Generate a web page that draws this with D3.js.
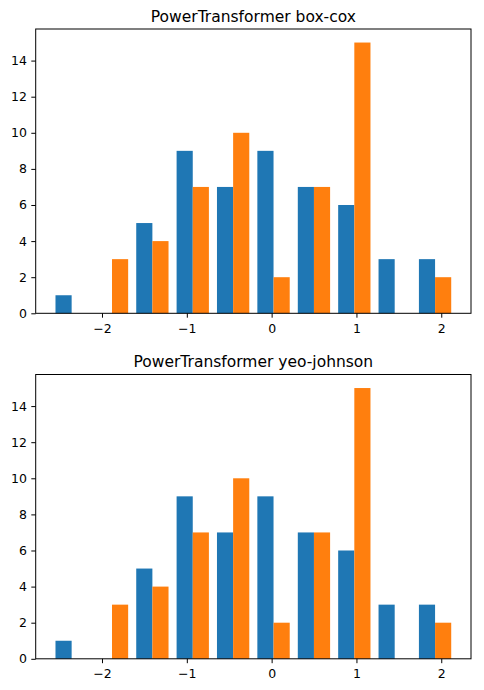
<!DOCTYPE html>
<html>
<head>
<meta charset="utf-8">
<script src="https://cdn.jsdelivr.net/npm/d3@7"></script>
<style>
	body { margin: 0; background: #fff; }
	text { font-family: "DejaVu Sans", sans-serif; fill: #000; }
</style>
</head>
<body>
<div id="graph"></div>
<script>
// histogram bins (10 bins, two data sets)
var binEdges = [-2.596, -2.120, -1.644, -1.168, -0.692, -0.216, 0.261, 0.737, 1.213, 1.689, 2.165];
var blueCounts = [1, 0, 5, 9, 7, 9, 7, 6, 3, 3];
var orangeCounts = [0, 3, 4, 7, 10, 2, 7, 15, 0, 2];
var titles = ["PowerTransformer box-cox", "PowerTransformer yeo-johnson"];
var xTicks = [-2, -1, 0, 1, 2];
var yTicks = [0, 2, 4, 6, 8, 10, 12, 14];
var colors = ["#1f77b4", "#ff7f0e"];

var width = 484;
var height = 690;
var plotLeft = 35.7, plotRight = 471;
var panelTops = [29, 374.5];
var panelHeight = 284.3;

var svg = d3.select("#graph")
				.append("svg")
					.attr("width", width)
					.attr("height", height)

// bars like matplotlib: 80% of each bin, split between the two sets
var bars = [];
[blueCounts, orangeCounts].forEach(function (counts, s) {
	counts.forEach(function (c, i) {
		var w = binEdges[i + 1] - binEdges[i];
		bars.push({ x0: binEdges[i] + w * (0.1 + 0.4 * s), x1: binEdges[i] + w * (0.5 + 0.4 * s), count: c, set: s });
	});
});

var lo = d3.min(bars, function (d) { return d.x0; });
var hi = d3.max(bars, function (d) { return d.x1; });
var pad = (hi - lo) * 0.05;
var x = d3.scaleLinear().domain([lo - pad, hi + pad]).range([plotLeft, plotRight]);
var yMax = d3.max(bars, function (d) { return d.count; }) * 1.05;

titles.forEach(function (title, p) {
	var top = panelTops[p];
	var y = d3.scaleLinear().domain([0, yMax]).range([top + panelHeight, top]);
	var g = svg.append("g");

	g.selectAll("rect.bar")
		.data(bars)
		.enter()
			.append("rect")
				.attr("class", "bar")
				.attr("x", function (d) { return x(d.x0); })
				.attr("width", function (d) { return x(d.x1) - x(d.x0); })
				.attr("y", function (d) { return y(d.count); })
				.attr("height", function (d) { return y(0) - y(d.count); })
				.attr("fill", function (d) { return colors[d.set]; })

	var xAxis = g.append("g")
		.attr("transform", "translate(0," + (top + panelHeight) + ")")
		.call(d3.axisBottom(x).tickValues(xTicks).tickFormat(d3.format("d")).tickSize(4.4).tickPadding(4.4).tickSizeOuter(0))
	xAxis.select(".domain").remove();
	xAxis.selectAll("text")
		.attr("dy", "0.85em")
		.style("font-size", "12.5px")

	var yAxis = g.append("g")
		.attr("transform", "translate(" + plotLeft + ",0)")
		.call(d3.axisLeft(y).tickValues(yTicks).tickFormat(d3.format("d")).tickSize(4.4).tickPadding(4.4).tickSizeOuter(0))
	yAxis.select(".domain").remove();
	yAxis.selectAll("text")
		.style("font-size", "12.5px")

	g.selectAll(".tick line").attr("stroke", "#000");
	g.selectAll(".tick text").attr("fill", "#000").attr("font-family", "DejaVu Sans");

	// frame
	g.append("rect")
		.attr("x", plotLeft)
		.attr("y", top)
		.attr("width", plotRight - plotLeft)
		.attr("height", panelHeight)
		.attr("fill", "none")
		.attr("stroke", "#000")
		.attr("stroke-width", 1)

	g.append("text")
		.attr("x", (plotLeft + plotRight) / 2)
		.attr("y", top - 7.5)
		.attr("text-anchor", "middle")
		.style("font-size", "15.5px")
		.text(title)
});
</script>
</body>
</html>
